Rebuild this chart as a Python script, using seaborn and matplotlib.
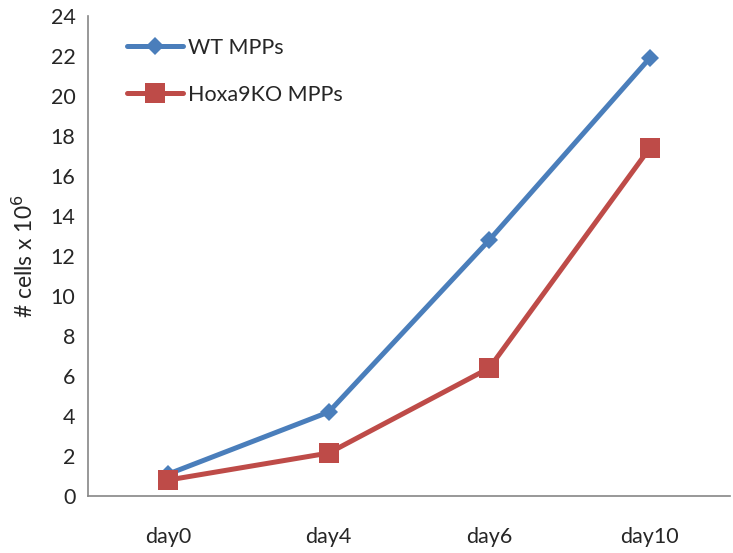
import matplotlib
matplotlib.use("Agg")
import matplotlib.pyplot as plt
import seaborn as sns
import pandas as pd

days = ["day0", "day4", "day6", "day10"]
wt = [1.1, 4.2, 12.8, 21.9]
ko = [0.8, 2.15, 6.4, 17.4]
series_names = ["WT MPPs", "Hoxa9KO MPPs"]

df = pd.DataFrame({
    "day": days * 2,
    "x": list(range(len(days))) * 2,
    "value": wt + ko,
    "series": [series_names[0]] * len(days) + [series_names[1]] * len(days),
})

sns.set_style("white")
plt.rcParams["font.family"] = ["Lato", "DejaVu Sans"]

fig = plt.figure(figsize=(7.33, 5.53), dpi=100)
ax = fig.add_axes([0.120, 0.103, 0.876, 0.868])

palette = {series_names[0]: "#4A7EBB", series_names[1]: "#BE4B48"}
markers = {series_names[0]: "D", series_names[1]: "s"}
sizes_m = {series_names[0]: 9.5, series_names[1]: 14}

sns.lineplot(data=df, x="x", y="value", hue="series", style="series",
             palette=palette, markers=markers, dashes=False, linewidth=3.6,
             markersize=11, markeredgewidth=0, ax=ax, legend=True)
for line, name in zip(ax.get_lines(), series_names):
    line.set_markersize(sizes_m[name])

ax.set_xlim(-0.5, 3.5)
ax.set_ylim(0, 24)
ax.set_yticks(range(0, 25, 2))
ax.set_xticks([-0.5, 0.5, 1.5, 2.5, 3.5])
ax.set_xticklabels([])
ax.set_xticks(range(len(days)), minor=True)
ax.set_xticklabels(days, minor=True)
ax.tick_params(axis="x", which="minor", length=0, pad=22, labelsize=15.5)
ax.tick_params(axis="x", which="major", length=9, width=1.2, color="#868686", direction="out")
ax.tick_params(axis="y", length=6, width=1.2, color="#868686", direction="out", labelsize=15.5, pad=3)
ax.set_xlabel("")
ax.set_ylabel("# cells x 10$^6$", fontsize=16.5, labelpad=10)

for s in ["top", "right"]:
    ax.spines[s].set_visible(False)
for s in ["left", "bottom"]:
    ax.spines[s].set_color("#868686")
    ax.spines[s].set_linewidth(1.2)

handles, labels = ax.get_legend_handles_labels()
for h, name in zip(handles, labels):
    if name in sizes_m:
        h.set_markersize(sizes_m[name])
ax.legend(handles, labels, loc="upper left", bbox_to_anchor=(0.03, 0.995), frameon=False,
          fontsize=15.5, handlelength=2.6, handletextpad=0.25, labelspacing=1.25)

fig.savefig("out.png", dpi=100)
